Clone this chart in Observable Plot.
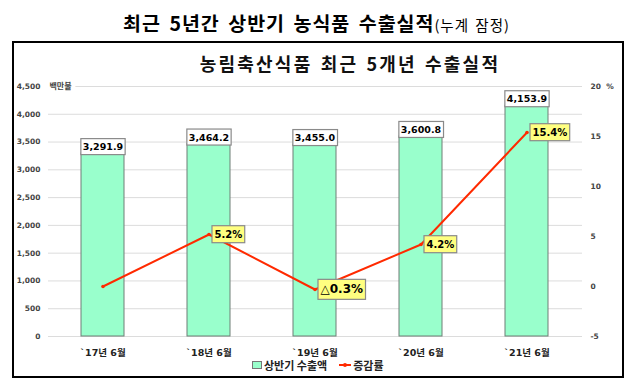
<!DOCTYPE html>
<html><head><meta charset="utf-8">
<script src="https://cdn.jsdelivr.net/npm/d3@7"></script>
<script src="https://cdn.jsdelivr.net/npm/@observablehq/plot@0.6"></script>
<style>
  body{margin:0;background:#fff;width:633px;height:391px;position:relative;overflow:hidden;font-family:"Noto Sans CJK KR","DejaVu Sans",sans-serif;}
  #title{position:absolute;left:0;top:9px;width:633px;text-align:center;font-weight:bold;font-size:19.5px;line-height:28px;color:#000;letter-spacing:1px;word-spacing:3px;}
  #title small{font-size:14.5px;font-weight:normal;letter-spacing:1px;word-spacing:2px;}
  #box{position:absolute;left:12px;top:41px;width:612px;height:337px;border:2px solid #000;box-sizing:border-box;}
  #inner{position:absolute;left:100px;top:50px;width:500px;text-align:center;font-weight:bold;font-size:18px;line-height:26px;letter-spacing:2.2px;word-spacing:2px;color:#111;}
  #chart{position:absolute;left:0;top:70px;}
  #legend{position:absolute;left:252px;top:357px;font-size:11px;font-weight:bold;color:#222;display:flex;align-items:center;line-height:16px;}
  .sw{display:inline-block;width:8px;height:6px;background:#99ffcc;border:1px solid #777;margin-right:2px;}
  .ln{display:inline-block;width:12px;height:2px;background:#ff2a00;margin:0 2px 0 12px;position:relative;}
  .ln::after{content:"";position:absolute;left:4px;top:-1.5px;width:4px;height:4px;border-radius:2px;background:#ff2a00;}
</style></head>
<body>
<div id="title">최근 5년간 상반기 농식품 수출실적<small>(누계 잠정)</small></div>
<div id="box"></div>
<div id="inner">농림축산식품 최근 5개년 수출실적</div>
<div id="chart"></div>
<div id="legend"><span class="sw"></span>상반기 수출액<span class="ln"></span>증감률</div>
<script>
const years = ["`17년 6월", "`18년 6월", "`19년 6월", "`20년 6월", "`21년 6월"];
const exportValues = [3291.9, 3464.2, 3455.0, 3600.8, 4153.9];
const growthRates = [0, 5.2, -0.3, 4.2, 15.4];
const growthLabels = ["", "5.2%", "△0.3%", "4.2%", "15.4%"];
const leftTicks = [0, 500, 1000, 1500, 2000, 2500, 3000, 3500, 4000, 4500];
const rightTicks = [-5, 0, 5, 10, 15, 20];
const leftUnit = "백만불";

// right axis (%) domain [-5, 20] mapped onto left axis domain [0, 4500]
const toLeft = p => (p + 5) * 4500 / 25;

const data = years.map((y, i) => ({
  year: y, value: exportValues[i], growth: growthRates[i], glabel: growthLabels[i]
}));
const barLabelText = exportValues.map(v => d3.format(",.1f")(v));

const fontFam = "DejaVu Sans, Noto Sans CJK KR, sans-serif";

const chart = Plot.plot({
  width: 633, height: 300,
  marginLeft: 48, marginRight: 51, marginTop: 16, marginBottom: 34,
  style: {fontFamily: fontFam, background: "transparent", overflow: "visible"},
  x: {domain: years, paddingInner: 0.59, paddingOuter: 0.295, label: null, axis: null},
  y: {domain: [0, 4500], label: null, axis: null},
  marks: [
    Plot.gridY(leftTicks, {stroke: "#dcdcdc", strokeOpacity: 1}),
    Plot.axisY(leftTicks, {anchor: "left", tickSize: 0, tickPadding: 8, tickFormat: d3.format(","),
      fontSize: 7.5, fontWeight: "bold", fill: "#444", label: null}),
    Plot.axisY(rightTicks.map(toLeft), {anchor: "right", tickSize: 0, tickPadding: 8,
      tickFormat: (v, i) => rightTicks[i] === 20 ? "20  %" : String(rightTicks[i]),
      fontSize: 7.5, fontWeight: "bold", fill: "#444", label: null}),
    Plot.text([leftUnit], {frameAnchor: "top-left", text: d => d, dx: 1, lineAnchor: "middle", textAnchor: "start",
      fontSize: 8, fontWeight: "bold", fill: "#444", stroke: "white", strokeWidth: 8}),
    Plot.axisX({anchor: "bottom", tickSize: 0, tickPadding: 13, fontSize: 9.5, fontWeight: "bold", fill: "#222", label: null}),
    Plot.barY(data, {x: "year", y: "value", fill: "#99ffcc", stroke: "#6f7f77", strokeWidth: 1}),
    Plot.line(data, {x: "year", y: d => toLeft(d.growth), stroke: "#ff2a00", strokeWidth: 2}),
    Plot.dot(data, {x: "year", y: d => toLeft(d.growth), r: 1.8, fill: "#ff2a00"}),
    Plot.text(data, {x: "year", y: "value", text: d => d3.format(",.1f")(d.value), dy: -3.5, lineAnchor: "bottom",
      fontSize: 9.5, fontWeight: "bold", fill: "#000"}),
    Plot.text(data.filter(d => d.glabel), {x: "year", y: d => toLeft(d.growth), text: "glabel", dx: 5.5,
      textAnchor: "start", lineAnchor: "middle", fontSize: d => d.growth < 0 ? 12 : 10, fontWeight: "bold", fill: "#000"})
  ]
});
document.getElementById("chart").appendChild(chart);

// draw label boxes behind the data labels
const svgNS = "http://www.w3.org/2000/svg";
chart.querySelectorAll("text").forEach(t => {
  const s = t.textContent;
  let fill = null, px = 2, py = 2.5;
  if (barLabelText.includes(s)) fill = "#ffffff";
  else if (growthLabels.includes(s) && s !== "") { fill = "#ffff80"; px = 2.5; py = 3; }
  if (!fill) return;
  const b = t.getBBox();
  const r = document.createElementNS(svgNS, "rect");
  r.setAttribute("x", b.x - px);
  r.setAttribute("y", b.y - py);
  r.setAttribute("width", b.width + 2 * px);
  r.setAttribute("height", b.height + 2 * py);
  r.setAttribute("fill", fill);
  r.setAttribute("stroke", "#8a8a8a");
  r.setAttribute("stroke-width", "1.2");
  const tr = t.getAttribute("transform");
  if (tr) r.setAttribute("transform", tr);
  t.parentNode.insertBefore(r, t);
});
</script>
</body></html>
